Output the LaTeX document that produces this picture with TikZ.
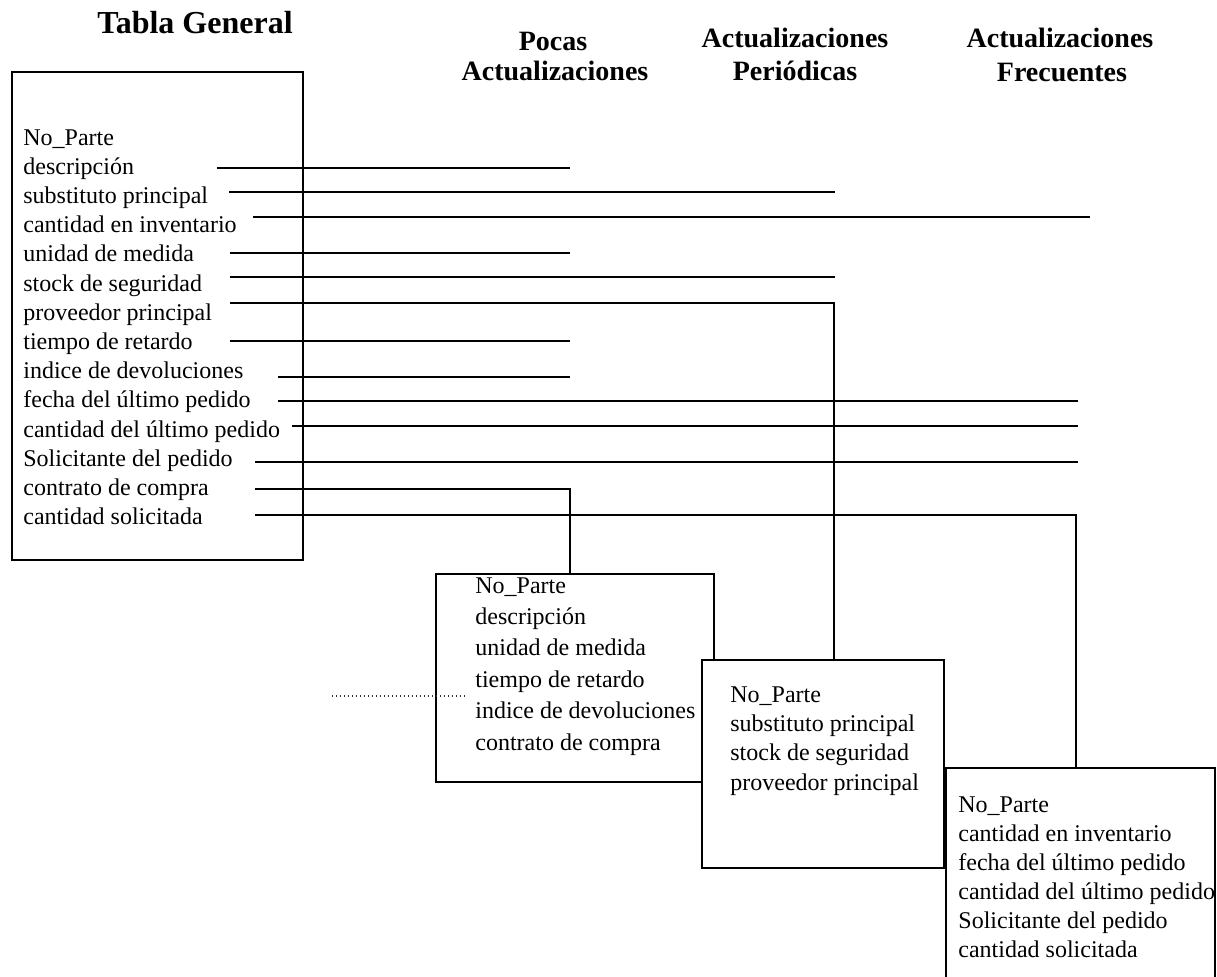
\documentclass[tikz,border=0pt]{standalone}
\usepackage{fontspec}
\setmainfont{Liberation Serif}
\begin{document}
\begin{tikzpicture}[x=0.5pt,y=-0.5pt,
  tablebox/.style={draw, line width=1pt, fill=white, inner sep=0pt, outer sep=0pt, anchor=north west},
  link/.style={line width=1.3pt},
  field/.style={inner sep=0pt, anchor=base west, font=\fontsize{12}{14}\selectfont},
  heading/.style={inner sep=0pt, anchor=base, font=\fontsize{14}{16}\selectfont\bfseries},
  title/.style={heading, font=\fontsize{16}{18}\selectfont\bfseries},
  guide/.style={line width=0.7pt, dash pattern=on 0.7pt off 1.3pt, black!80}
]
\useasboundingbox (0,0) rectangle (1217,976);
\clip (0,0) rectangle (1217,976);

% column headings
\node[title]   (hGen)  at (195,33) {Tabla General};
\node[heading] (hPocA) at (553,50) {Pocas};
\node[heading] (hPocB) at (555,80) {Actualizaciones};
\node[heading] (hPerA) at (795,47) {Actualizaciones};
\node[heading] (hPerB) at (795,80) {Periódicas};
\node[heading] (hFreA) at (1060,47) {Actualizaciones};
\node[heading] (hFreB) at (1062,81) {Frecuentes};

% general table
\node[tablebox, minimum width=145.5pt, minimum height=244pt] (gen) at (12,72) {};
\foreach \t [count=\i from 0] in {No\_Parte, descripción, substituto principal,
    cantidad en inventario, unidad de medida, stock de seguridad,
    proveedor principal, tiempo de retardo, indice de devoluciones,
    fecha del último pedido, cantidad del último pedido,
    Solicitante del pedido, contrato de compra, cantidad solicitada}
  \node[field] (g\i) at (23,145+29.2*\i) {\t};

% attribute lines towards the update groups
\foreach \n/\yy/\xs/\xe in {1/168/217/570, 2/192/229/835, 3/217/253/1090,
    4/253/230/570, 5/277/230/835, 7/341/230/570, 8/377/278/570,
    9/401/278/1078, 10/426/292/1078, 11/462/255/1078}
{
  \coordinate (a\n) at (\xs,\yy);
  \coordinate (b\n) at (\xe,\yy);
  \draw[link] (a\n) -- (b\n);
}
\coordinate (a6) at (230,303);   \coordinate (b6) at (834,303);
\coordinate (a12) at (255,489);  \coordinate (b12) at (570,489);
\coordinate (a13) at (255,515);  \coordinate (b13) at (1076,515);

% few updates
\node[tablebox, minimum width=139pt, minimum height=104pt] (pocas) at (436,574) {};
\foreach \t [count=\i from 0] in {No\_Parte, descripción, unidad de medida,
    tiempo de retardo, indice de devoluciones, contrato de compra}
  \node[field] (p\i) at (475,593+31.4*\i) {\t};
\draw[link] (a12) -- (b12) -- (b12 |- pocas.north);
\coordinate (dotL) at (332,696);
\coordinate (dotR) at (465,696);
\draw[guide] (dotL) -- (dotR);

% periodic updates
\node[tablebox, minimum width=121pt, minimum height=104pt] (peri) at (702,660) {};
\foreach \t [count=\i from 0] in {No\_Parte, substituto principal,
    stock de seguridad, proveedor principal}
  \node[field] (r\i) at (730,702.5+29.2*\i) {\t};
\draw[link] (a6) -- (b6) -- (b6 |- peri.north);

% frequent updates
\node[tablebox, minimum width=134.5pt, minimum height=121pt] (frec) at (946,768) {};
\foreach \t [count=\i from 0] in {No\_Parte, cantidad en inventario,
    fecha del último pedido, cantidad del último pedido,
    Solicitante del pedido, cantidad solicitada}
  \node[field] (f\i) at (958,812+29*\i) {\t};
\draw[link] (a13) -- (b13) -- (b13 |- frec.north);
\end{tikzpicture}
\end{document}
